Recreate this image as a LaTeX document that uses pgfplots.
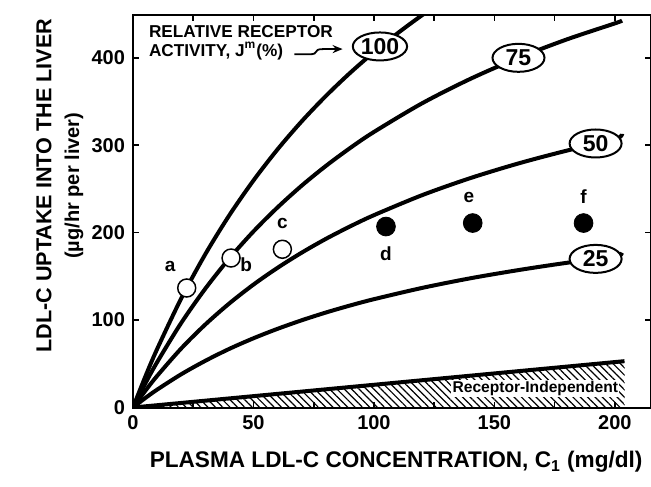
\documentclass[border=0pt]{standalone}
\usepackage{fontspec}
\setmainfont{Liberation Sans}
\usepackage{pgfplots}
\pgfplotsset{compat=1.18}
\usetikzlibrary{patterns.meta,arrows.meta,shapes.geometric}
\begin{document}
\begin{tikzpicture}
\begin{axis}[name=ax, width=259pt, height=196.25pt, scale only axis,
  xmin=0, xmax=215, ymin=0, ymax=449,
  clip mode=individual,
  axis line style={line width=1pt},
  xtick={0,50,...,200}, minor xtick={25,75,...,200},
  ytick={0,100,...,400},
  tick align=inside, major tick length=3pt, minor tick length=3pt,
  every tick/.style={line width=0.8pt, black},
  /pgf/number format/assume math mode=true,
  ticklabel style={font=\bfseries\fontsize{10}{11}\selectfont},
  xticklabel style={yshift=-0.5pt},
  yticklabel style={xshift=-0.5pt},
]
% receptor-independent hatch
\addplot[draw=none, pattern={Lines[angle=-45, distance=2.6pt, line width=0.6pt]}] coordinates {(0,0) (204,53) (204,0)} \closedcycle;
\addplot[line width=2pt] coordinates {(0,0) (204,53)};
% curves
\addplot[line width=2pt, smooth] coordinates {(0,0) (5,34.6) (10,66.8) (20,124.7) (30,175.3) (40,220) (50,259.7) (60,295.3) (70,327.3) (80,356.2) (90,382.5) (100,406.5) (110,428.5) (120,448.8) (130,467.5)};
\addplot[line width=2pt, smooth] coordinates {(0,0) (5,26.9) (10,51.8) (20,96.7) (30,135.9) (40,170.6) (50,201.4) (60,228.9) (70,253.75) (80,276.2) (90,296.6) (100,315.2) (120,348) (140,375.9) (160,400) (180,421) (200,439.4) (203,442.5)};
\addplot[line width=2pt, smooth] coordinates {(0,0) (5,18.7) (10,36.1) (20,67.5) (30,94.9) (40,119.1) (50,140.6) (60,159.8) (70,177.1) (80,192.8) (90,207) (100,220) (120,242.9) (140,262.4) (160,279.2) (180,293.8) (200,306.7) (203,313)};
\addplot[line width=2pt, smooth] coordinates {(0,0) (5,10.6) (10,20.4) (20,38) (30,53.4) (40,67.1) (50,79.2) (60,90) (70,99.75) (80,108.6) (90,116.6) (100,123.9) (120,136.8) (140,147.8) (160,157.2) (180,165.5) (200,172.7) (203,177)};
% data points
\addplot[only marks, mark=*, mark size=4.5pt, mark options={fill=white, draw=black, line width=0.75pt}] coordinates {(22.3,136.7) (40.7,171) (62,181)};
\addplot[only marks, mark=*, mark size=4.7pt, mark options={fill=black, draw=black}] coordinates {(105,207) (141,211) (187,211)};
% point labels
\begin{scope}[every node/.style={font=\bfseries\fontsize{9.5}{10}\selectfont}]
\node at (axis cs:15.4,161) {a};
\node at (axis cs:47,163) {b};
\node at (axis cs:62,210) {c};
\node at (axis cs:105,176) {d};
\node at (axis cs:139.4,240) {e};
\node at (axis cs:187,241) {f};
\end{scope}
% ellipse labels
\begin{scope}[every node/.style={ellipse, draw, line width=1pt, fill=white, inner sep=0pt, minimum width=26pt, minimum height=14pt, font=\bfseries\fontsize{11.5}{11.5}\selectfont}]
\node at (axis cs:102.5,413) {100};
\node at (axis cs:160,400) {75};
\node at (axis cs:192,302) {50};
\node at (axis cs:192,170) {25};
\end{scope}
% receptor independent label
\node[fill=white, inner sep=0.6pt, font=\bfseries\fontsize{7.8}{8}\selectfont] at (axis cs:167,22) {Receptor-Independent};
% annotation
\node[anchor=north west, align=left, inner sep=0pt, font=\bfseries\fontsize{8.6}{9.6}\selectfont] at (axis cs:6.5,438) {RELATIVE RECEPTOR\\ACTIVITY, J\textsuperscript{m}(\%)};
\draw[line width=0.9pt, -{Stealth[length=5pt,width=4pt]}] (axis cs:67,404) -- (axis cs:73,404) .. controls (axis cs:78,404) and (axis cs:74,410) .. (axis cs:79,410) -- (axis cs:87,410);
% axis labels
\node[font=\bfseries\fontsize{11.3}{11.3}\selectfont] at (rel axis cs:0.508,-0.139) {PLASMA LDL-C CONCENTRATION, C$_{\mathbf{1}}$ (mg/dl)};
\node[rotate=90, font=\bfseries\fontsize{10.8}{11}\selectfont] at (rel axis cs:-0.172,0.565) {LDL-C UPTAKE INTO THE LIVER};
\node[rotate=90, font=\bfseries\fontsize{10}{11}\selectfont] at (rel axis cs:-0.114,0.565) {(\textmu g/hr per liver)};
\end{axis}
\pgfresetboundingbox
\path ([shift={(-66.5pt,-39.25pt)}]ax.south west) rectangle ([shift={(0pt,7.5pt)}]ax.north east);
\end{tikzpicture}
\end{document}
